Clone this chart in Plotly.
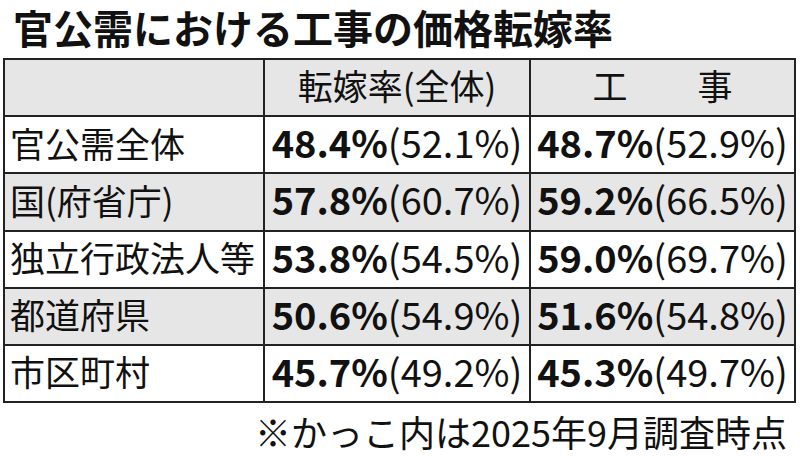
import plotly.graph_objects as go

title = "官公需における工事の価格転嫁率"
header = ["", "転嫁率(全体)", "工　　事"]
categories = ["官公需全体", "国(府省庁)", "独立行政法人等", "都道府県", "市区町村"]
rate_all = ["48.4%", "57.8%", "53.8%", "50.6%", "45.7%"]
rate_all_prev = ["52.1%", "60.7%", "54.5%", "54.9%", "49.2%"]
rate_work = ["48.7%", "59.2%", "59.0%", "51.6%", "45.3%"]
rate_work_prev = ["52.9%", "66.5%", "69.7%", "54.8%", "49.7%"]
footnote = "※かっこ内は2025年9月調査時点"

# ---- layout constants (pixels) ----
W, H = 800, 456
FONT = "Noto Sans CJK JP"
GRAY = "#e6e6e6"
LINE = "#222222"
TXT = "#111111"
col_widths = [260, 266, 265]
TBL_L, TBL_T, TBL_R, TBL_B = 4, 59, 795, 402
TEXT_DROP_PX = 4  # text sits slightly below the row's middle

ML, MT, MR, MB = TBL_L - 1, TBL_T - 1, W - TBL_R - 1, H - TBL_B - 1
PW, PH = W - ML - MR, H - MT - MB


def px_x(px):
    return (px - ML) / PW


def px_y(py):
    return (H - MB - py) / PH


edges = [0]
for w in col_widths:
    edges.append(edges[-1] + w)
centers = [(edges[i] + edges[i + 1]) / 2 for i in range(len(col_widths))]

n_rows = len(categories) + 1
row_px = (TBL_B - TBL_T) / n_rows
ext_y = 1 / row_px  # 1px in row units
drop = TEXT_DROP_PX / row_px

# shading: header gray, then alternate white / gray
shade = [[1, 1, 1]] + [[i % 2] * 3 for i in range(len(categories))]

val_all = [f"<b>{a}</b>({b})" for a, b in zip(rate_all, rate_all_prev)]
val_work = [f"<b>{a}</b>({b})" for a, b in zip(rate_work, rate_work_prev)]
rows = list(range(n_rows))
text_rows = [r + drop for r in rows]

fig = go.Figure()
fig.add_trace(go.Heatmap(
    x=edges, y=[r - 0.5 for r in rows] + [n_rows - 0.5], z=shade,
    colorscale=[[0, "white"], [1, GRAY]], zmin=0, zmax=1,
    showscale=False, xgap=2, ygap=2, hoverinfo="skip",
))
# row labels, left aligned
fig.add_trace(go.Scatter(
    x=[edges[0] + 6] * len(categories), y=text_rows[1:], text=categories,
    mode="text", textposition="middle right",
    textfont=dict(family=FONT, size=35, color=TXT), hoverinfo="skip",
))
# header texts
fig.add_trace(go.Scatter(
    x=centers[1:], y=[text_rows[0]] * 2, text=header[1:], mode="text",
    textposition="middle center",
    textfont=dict(family=FONT, size=35, color=TXT), hoverinfo="skip",
))
# values
fig.add_trace(go.Scatter(
    x=[centers[1]] * len(val_all) + [centers[2]] * len(val_work),
    y=text_rows[1:] + text_rows[1:], text=val_all + val_work, mode="text",
    textposition="middle center",
    textfont=dict(family=FONT, size=38, color=TXT), hoverinfo="skip",
))

fig.update_xaxes(range=[edges[0] - 1, edges[-1] + 1], visible=False, fixedrange=True)
fig.update_yaxes(range=[n_rows - 0.5 + ext_y, -0.5 - ext_y], visible=False, fixedrange=True)

fig.update_layout(
    title=dict(text=f"<b>{title}</b>", xref="container", yref="container",
               x=13 / W, y=1 - 30 / H, xanchor="left", yanchor="middle",
               font=dict(family=FONT, size=40, color=TXT)),
)
fig.add_annotation(text=footnote, x=px_x(789), y=px_y(431), xref="paper", yref="paper",
                   xanchor="right", yanchor="middle", showarrow=False,
                   font=dict(family=FONT, size=36, color=TXT))

fig.update_layout(width=W, height=H, showlegend=False,
                  margin=dict(l=ML, r=MR, t=MT, b=MB, autoexpand=False),
                  paper_bgcolor="white", plot_bgcolor=LINE)
fig.write_html("out.html", config={"displayModeBar": False, "staticPlot": True},
               post_script="document.body.style.margin='0';")
